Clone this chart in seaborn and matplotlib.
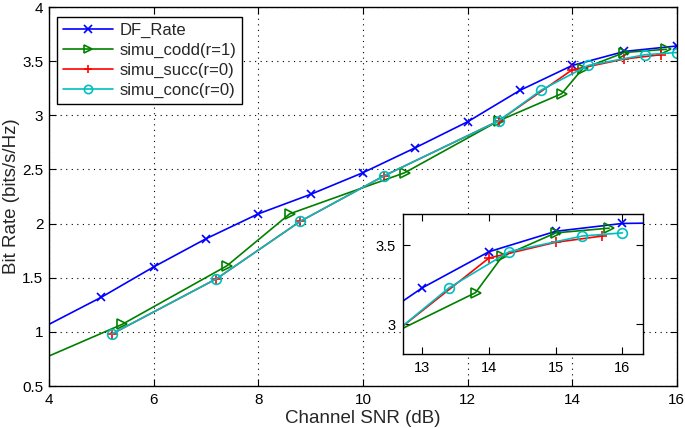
import matplotlib
matplotlib.use("Agg")
import matplotlib.pyplot as plt
import seaborn as sns

sns.set_style("ticks")
plt.rcParams["font.family"] = ["Liberation Sans", "DejaVu Sans"]

# data
snr_df = [3, 5, 6, 7, 8, 9, 10, 11, 12, 13, 14, 15, 16, 17]
rate_df = [0.82, 1.32, 1.60, 1.86, 2.09, 2.27, 2.47, 2.70, 2.94, 3.23, 3.46, 3.59, 3.64, 3.645]

snr_codd = [3.2, 5.4, 7.4, 8.6, 10.8, 12.6, 13.8, 14.2, 15.0, 15.8]
rate_codd = [0.61, 1.07, 1.61, 2.09, 2.47, 2.95, 3.20, 3.43, 3.58, 3.61]

snr_succ = [5.2, 7.2, 8.8, 10.4, 12.6, 14.0, 15.0, 15.7]
rate_succ = [0.98, 1.49, 2.02, 2.44, 2.95, 3.42, 3.52, 3.56]

snr_conc = [5.2, 7.2, 8.8, 10.4, 12.6, 13.4, 14.3, 15.4, 16.0]
rate_conc = [0.98, 1.49, 2.02, 2.44, 2.95, 3.23, 3.46, 3.56, 3.58]

x_ticks = [4, 6, 8, 10, 12, 14, 16]
y_ticks = [0.5, 1, 1.5, 2, 2.5, 3, 3.5, 4]
y_tick_labels = ["0.5", "1", "1.5", "2", "2.5", "3", "3.5", "4"]
inset_x_ticks = [13, 14, 15, 16]
inset_y_ticks = [3, 3.5]
inset_y_tick_labels = ["3", "3.5"]

# name, x, y, colour, marker, face, marker size
series = [
    ("DF_Rate", snr_df, rate_df, "#0000ff", "x", "#0000ff", 6),
    ("simu_codd(r=1)", snr_codd, rate_codd, "#008000", ">", "none", 7),
    ("simu_succ(r=0)", snr_succ, rate_succ, "#ff0000", "+", "#ff0000", 7),
    ("simu_conc(r=0)", snr_conc, rate_conc, "#00bfbf", "o", "none", 7),
]


def draw(ax, with_label):
    for name, xs, ys, color, marker, face, ms in series:
        sns.lineplot(
            x=xs, y=ys, ax=ax, sort=False, estimator=None,
            color=color, marker=marker, markersize=ms,
            markerfacecolor=face, markeredgecolor=color, markeredgewidth=1.2,
            linewidth=1.2, label=name if with_label else None,
        )


def matlab_axes(ax, fs):
    for s in ax.spines.values():
        s.set_color("black")
        s.set_linewidth(1.0)
    ax.tick_params(direction="in", top=True, right=True, length=5,
                   width=0.8, labelsize=fs, colors="black", pad=5)


fig = plt.figure(figsize=(6.85, 4.28), dpi=100)
ax = fig.add_axes([0.0715, 0.098, 0.9165, 0.8856])
draw(ax, True)
ax.set_xlim(4, 16)
ax.set_ylim(0.5, 4)
ax.set_xticks(x_ticks)
ax.set_yticks(y_ticks)
ax.set_yticklabels(y_tick_labels)
ax.grid(True, linestyle=(0, (1, 4)), color="black", linewidth=0.8)
matlab_axes(ax, 11)
ax.tick_params(axis="y", pad=4)
ax.set_xlabel("Channel SNR (dB)", fontsize=13.5, labelpad=2)
ax.set_ylabel("Bit Rate (bits/s/Hz)", fontsize=13.5)
ax.yaxis.set_label_coords(-0.046, 0.5)

leg = ax.legend(loc="upper left", bbox_to_anchor=(0.005, 0.988), fontsize=12,
                handlelength=3.0, borderpad=0.35, labelspacing=0.3,
                handletextpad=0.4, borderaxespad=0.3, fancybox=False,
                framealpha=1, markerscale=0.85)
leg.get_frame().set_edgecolor("black")
leg.get_frame().set_linewidth(1.0)

axin = fig.add_axes([0.588, 0.173, 0.350, 0.327])
draw(axin, False)
axin.set_xlim(12.71, 16.3)
axin.set_ylim(2.81, 3.70)
axin.set_xticks(inset_x_ticks)
axin.set_yticks(inset_y_ticks)
axin.set_yticklabels(inset_y_tick_labels)
axin.set_facecolor("white")
matlab_axes(axin, 10.5)

fig.savefig("out.png", dpi=100)
